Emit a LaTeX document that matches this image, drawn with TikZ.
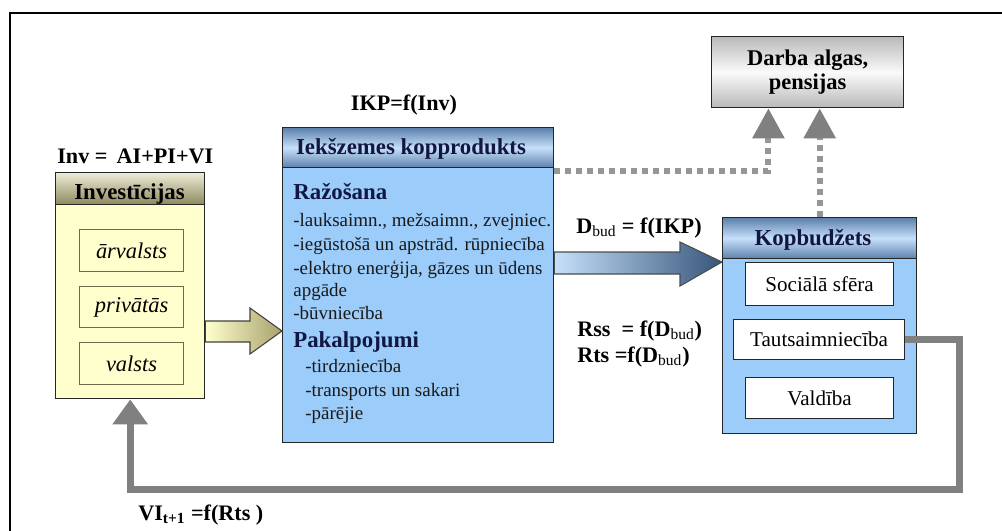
\documentclass[tikz,border=0pt]{standalone}
\usepackage{fontspec}
\setmainfont{Liberation Serif}
\usetikzlibrary{positioning, arrows.meta, calc}
\definecolor{invyel}{RGB}{255,255,206}
\definecolor{invtop}{RGB}{238,236,216}
\definecolor{invbot}{RGB}{140,136,92}
\definecolor{olivedge}{RGB}{112,106,72}
\definecolor{ikpblue}{RGB}{155,204,250}
\definecolor{hddark}{RGB}{92,128,172}
\definecolor{hdlight}{RGB}{198,224,250}
\definecolor{navy}{RGB}{18,22,66}
\definecolor{dotgray}{RGB}{150,150,150}
\definecolor{loopgray}{RGB}{128,128,128}
\definecolor{khaki}{RGB}{168,162,108}
\definecolor{steel}{RGB}{54,86,122}
\newlength{\pu}\setlength{\pu}{0.02cm}

\begin{document}
\begin{tikzpicture}
[x=0.02cm, y=-0.02cm,
 box/.style={rectangle, draw=black!85, line width=0.8pt, anchor=north west, inner sep=0pt},
 invhd/.style={box, top color=invtop, bottom color=invbot},
 bluehd/.style={box, top color=hddark, bottom color=hddark, middle color=hdlight},
 inbox/.style={rectangle, draw=olivedge, line width=0.7pt, fill=invyel, anchor=north west,
   inner sep=0pt, font=\fontsize{12.8}{14}\selectfont\itshape},
 kbox/.style={rectangle, draw=black!85, line width=0.7pt, fill=white, anchor=north west,
   inner sep=0pt, font=\fontsize{12}{14}\selectfont},
 hd/.style={anchor=base west, inner sep=0pt, text=navy, font=\fontsize{13}{15}\selectfont\bfseries},
 li/.style={anchor=base west, inner sep=0pt, text=black!90, font=\fontsize{10.8}{12}\selectfont},
 fml/.style={anchor=base west, inner sep=0pt, font=\fontsize{12.6}{14}\selectfont\bfseries},
 dotline/.style={draw=dotgray, line width=0.12cm, dash pattern=on 0.12cm off 0.1cm,
   arrows={-{Triangle[width=0.62cm, length=0.6cm, fill=loopgray, color=loopgray]}}},
 backline/.style={draw=loopgray, line width=0.14cm,
   arrows={-{Triangle[width=0.68cm, length=0.5cm]}}}]
\useasboundingbox (0,0) rectangle (1002,531);
% frame
\draw[line width=1.3pt] (10,531) -- (10,13) -- (1002,13);
% investicijas
\node[box, fill=invyel, minimum width=149\pu, minimum height=226\pu] (inv) at (55,172) {};
\node[invhd, minimum width=149\pu, minimum height=32\pu] (invh) at (55,172) {};
\node[hd, anchor=base, text=black] (invt) at (129.5,199) {Investīcijas};
\node[inbox, minimum width=104\pu, minimum height=42\pu] (arv) at (79,229) {ārvalsts};
\node[inbox, minimum width=104\pu, minimum height=41\pu] (priv) at (79,286) {privātās};
\node[inbox, minimum width=104\pu, minimum height=42\pu] (val) at (79,342) {valsts};
\node[fml] (invf) at (57,163) {Inv =\, AI+PI+VI};
% iekszemes kopprodukts
\node[box, fill=ikpblue, minimum width=271\pu, minimum height=315\pu] (ikp) at (282,127) {};
\node[bluehd, minimum width=271\pu, minimum height=40\pu] (ikph) at (282,127) {};
\node[hd, anchor=base] (ikpt) at (411,154) {Iekšzemes kopprodukts};
\node[fml, anchor=base] (ikpf) at (404,110) {IKP=f(Inv)};
\node[hd] (razo) at (293,199) {Ražošana};
\node[li] (l1) at (293,226) {-lauksaimn., mežsaimn., zvejniec.};
\node[li] (l2) at (293,250) {-iegūstošā un apstrād. rūpniecība};
\node[li] (l3) at (293,274) {-elektro enerģija, gāzes un ūdens};
\node[li] (l4) at (293,296) {apgāde};
\node[li] (l5) at (293,319) {-būvniecība};
\node[hd] (pakal) at (293,347) {Pakalpojumi};
\node[li] (l6) at (305,372) {-tirdzniecība};
\node[li] (l7) at (305,396) {-transports un sakari};
\node[li] (l8) at (305,419) {-pārējie};
% kopbudzets
\node[box, fill=ikpblue, minimum width=194\pu, minimum height=216\pu] (kop) at (722,217) {};
\node[bluehd, minimum width=194\pu, minimum height=41\pu] (koph) at (722,217) {};
\node[hd, anchor=base] (kopt) at (813,245) {Kopbudžets};
\node[kbox, minimum width=148\pu, minimum height=43\pu] (soc) at (745,262) {Sociālā sfēra};
\node[kbox, minimum width=171\pu, minimum height=40\pu] (taut) at (733,319) {Tautsaimniecība};
\node[kbox, minimum width=148\pu, minimum height=41\pu] (vald) at (745,377) {Valdība};
% darba algas
\node[box, top color=gray!55, bottom color=gray!55, middle color=white!96!gray,
  minimum width=192\pu, minimum height=71\pu, align=center,
  font=\fontsize{12.8}{13.6}\selectfont\bfseries] (darba) at (711,36) {Darba algas,\\pensijas};
% formulas
\node[fml] (dbud) at (576,233) {D\textsubscript{\mdseries bud} = f(IKP)};
\node[fml] (rss) at (577,336) {Rss\ \ = f(D\textsubscript{\mdseries bud})};
\node[fml] (rts) at (577,362) {Rts =f(D\textsubscript{\mdseries bud})};
\node[fml] (vif) at (138,520) {VI\textsubscript{t+1} =f(Rts )};
% arrows
\draw[draw=black!75, line width=0.6pt, left color=invyel, right color=khaki]
  (inv.east |- 0,321) -- (250,321) -- (250,308) -- (ikp.west |- 0,331)
  -- (250,354) -- (250,342) -- (inv.east |- 0,342) -- cycle;
\draw[draw=black!70, line width=0.6pt, left color=hdlight, right color=steel]
  (ikp.east |- 0,252) -- (680,252) -- (680,242) -- (kop.west |- 0,262)
  -- (680,286) -- (680,274) -- (ikp.east |- 0,274) -- cycle;
\coordinate (dl) at ($(darba.south west)!0.297!(darba.south east)$);
\draw[dotline] (ikp.east |- 0,171) -| (dl);
\draw[dotline] (kop.north) -- (kop.north |- darba.south);
\coordinate (loopc) at (959,489);
\draw[backline] (taut.east) -| (loopc) -| (inv.south);
\end{tikzpicture}
\end{document}
